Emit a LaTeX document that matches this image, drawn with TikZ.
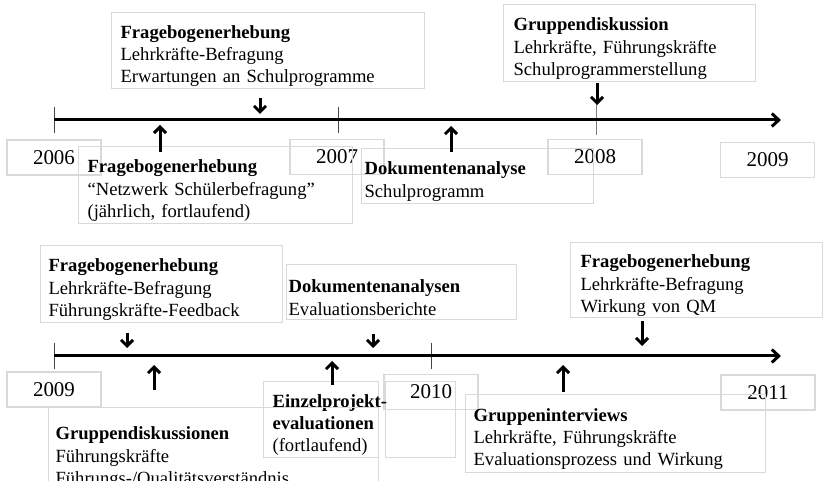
\documentclass[tikz,border=0pt]{standalone}
\usepackage{fontspec}
\setmainfont{Liberation Serif}
\usetikzlibrary{arrows.meta}
\definecolor{rahmen}{RGB}{217,217,217}
\definecolor{strichgrau}{RGB}{70,70,70}

\begin{document}
\begin{tikzpicture}[x=1pt,y=-1pt,
	kasten/.style={draw=rahmen,line width=1.2pt,anchor=north west,align=left,inner ysep=0pt,
		font=\fontsize{18.6}{22.3}\selectfont,execute at begin node={\rule{0pt}{24pt}}},
	jahr/.style={draw=rahmen,line width=1.2pt,minimum width=94pt,minimum height=35pt,inner sep=0pt,font=\fontsize{21}{25}\selectfont},
	pfeil/.style={line width=3pt,-{Straight Barb[length=6pt,width=12pt]}},
	achse/.style={line width=3pt,-{Straight Barb[length=7pt,width=13pt]}},
	strich/.style={line width=1pt,strichgrau}]
\useasboundingbox (0,0) rectangle (823,481);

% Jahreskaesten
\foreach \n / \x / \y / \t in {j1/54/157.5/2006, j2/337/157/2007, j3/595/157/2008, j4/767.5/160/2009,
								j5/54/389.5/2009, j6/431/392/2010, j7/768/392.5/2011}
	{%
		\node [jahr] (\n) at (\x,\y) {\t};
	}
\node [kasten,minimum width=70pt,minimum height=76pt] (leer) at (385,381) {};

% 2006--2009
\node [kasten,text width=295pt,inner xsep=9pt,minimum height=76pt] (q1) at (111,12)
	{\textbf{Fragebogenerhebung}\\Lehrkräfte-Befragung\\Erwartungen an Schulprogramme};
\node [kasten,text width=256pt,inner xsep=9pt,minimum height=77pt] (q2) at (78,146)
	{\textbf{Fragebogenerhebung}\\“Netzwerk Schülerbefragung”\\(jährlich, fortlaufend)};
\node [kasten,text width=226pt,inner xsep=3pt,minimum height=55pt] (d1) at (361,148)
	{\textbf{Dokumentenanalyse}\\Schulprogramm};
\node [kasten,text width=232pt,inner xsep=10pt,minimum height=77pt] (g1) at (503,4)
	{\textbf{Gruppendiskussion}\\Lehrkräfte, Führungskräfte\\Schulprogrammerstellung};

% 2009--2011
\node [kasten,text width=226pt,inner xsep=8pt,minimum height=77pt] (q3) at (40,245)
	{\textbf{Fragebogenerhebung}\\Lehrkräfte-Befragung\\Führungskräfte-Feedback};
\node [kasten,text width=226pt,inner xsep=2pt,minimum height=55pt] (d2) at (286,264)
	{\textbf{Dokumentenanalysen}\\Evaluationsberichte};
\node [kasten,text width=232pt,inner xsep=10pt,minimum height=75pt] (q4) at (570,242)
	{\textbf{Fragebogenerhebung}\\Lehrkräfte-Befragung\\Wirkung von QM};
\node [kasten,text width=97pt,inner xsep=9pt,minimum height=76pt] (e1) at (263,381)
	{\mbox{\textbf{Einzelprojekt-}}\\\mbox{\textbf{evaluationen}}\\(fortlaufend)};
\node [kasten,text width=316pt,inner xsep=7pt,minimum height=89pt] (g2) at (48,407)
	{\textbf{Gruppendiskussionen}\\Führungskräfte\\Führungs-/Qualitätsverständnis};
\node [kasten,text width=284pt,inner xsep=8pt,minimum height=78pt] (g3) at (465,394)
	{\textbf{Gruppeninterviews}\\Lehrkräfte, Führungskräfte\\Evaluationsprozess und Wirkung};

% Zeitachsen
\foreach \x / \y in {54/120, 338/120, 54/356, 431/356}
	\draw [strich] (\x,\y-13) -- (\x,\y+13);
\draw [strich,gray] (596,100) -- (596,135);

\coordinate (achse1a) at (54,120);
\coordinate (achse1b) at (781,120);
\coordinate (achse2a) at (54,356);
\coordinate (achse2b) at (781,356);
\draw [achse] (achse1a) -- (achse1b);
\draw [achse] (achse2a) -- (achse2b);

% Pfeile
\coordinate (q1a) at (260,114);
\coordinate (q2a) at (160,125);
\coordinate (d1a) at (451,126);
\coordinate (g1a) at (597,105);
\coordinate (q3a) at (127,348);
\coordinate (d2a) at (373,348);
\coordinate (e1a) at (332,361);
\coordinate (g2a) at (154,365);
\coordinate (g3a) at (563,365);
\coordinate (q4a) at (642,346);

\draw [pfeil] (q1a |- q1.south) ++(0,9) -- (q1a);
\draw [pfeil] (q2a |- q2.north) ++(0,6) -- (q2a);
\draw [pfeil] (d1a |- d1.north) ++(0,4) -- (d1a);
\draw [pfeil] (g1a |- g1.south) ++(0,1) -- (g1a);
\draw [pfeil] (q3a |- q3.south) ++(0,10) -- (q3a);
\draw [pfeil] (d2a |- d2.south) ++(0,14) -- (d2a);
\draw [pfeil] (e1a |- e1.north) ++(0,4) -- (e1a);
\draw [pfeil] (g2a |- g2.north) ++(0,-17) -- (g2a);
\draw [pfeil] (g3a |- g3.north) ++(0,-2) -- (g3a);
\draw [pfeil] (q4a |- q4.south) ++(0,3) -- (q4a);

\end{tikzpicture}
\end{document}
